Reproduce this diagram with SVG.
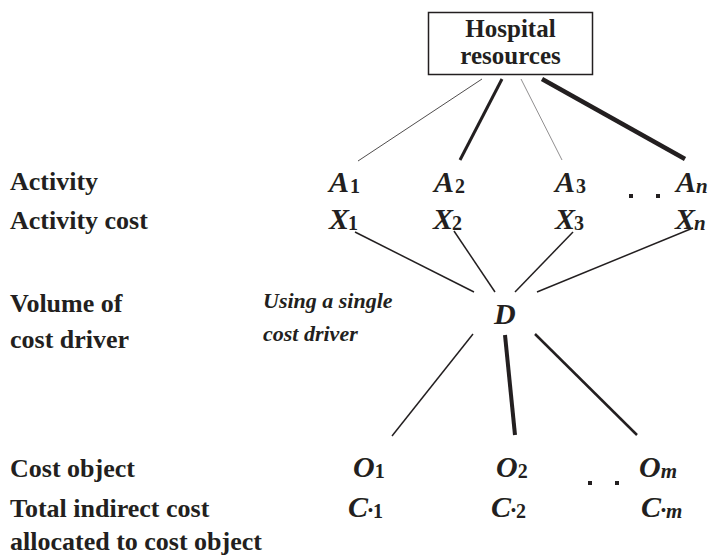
<svg xmlns="http://www.w3.org/2000/svg" width="714" height="555" viewBox="0 0 714 555">
<style>
.lab{font-family:"Liberation Serif","Times New Roman",serif;font-weight:bold;font-size:26px;fill:#231f20}
.hb{font-size:25px}
.note{font-family:"Liberation Serif","Times New Roman",serif;font-weight:bold;font-style:italic;font-size:22px;fill:#231f20}
.m{font-family:"Liberation Serif","Times New Roman",serif;font-weight:bold;font-style:italic;font-size:30px;fill:#231f20}
.s{font-style:normal;font-weight:bold;font-size:20px}
.si{font-style:italic;font-weight:bold;font-size:21px}
.dot{font-style:normal;font-weight:bold;font-size:14px}
.box{fill:#fff;stroke:#231f20;stroke-width:1.5}
.ln{stroke:#231f20;fill:none;stroke-linecap:butt}
.sq{fill:#231f20}
</style>
<g id="labels">
<text class="lab" x="10" y="190">Activity</text>
<text class="lab" x="10" y="229">Activity cost</text>
<text class="lab" x="10" y="312">Volume of</text>
<text class="lab" x="10" y="348">cost driver</text>
<text class="lab" x="10" y="477">Cost object</text>
<text class="lab" x="10" y="517">Total indirect cost</text>
<text class="lab" x="10" y="550">allocated to cost object</text>
<text class="note" x="263" y="308">Using a single</text>
<text class="note" x="263" y="341">cost driver</text>
</g>
<g id="connectors">
<line class="ln" x1="482" y1="79" x2="358" y2="161" stroke-width="0.8"/>
<line class="ln" x1="502" y1="79" x2="460" y2="160" stroke-width="3"/>
<line class="ln" x1="521" y1="79" x2="562" y2="160" stroke-width="0.5"/>
<line class="ln" x1="542" y1="79" x2="685" y2="159" stroke-width="4.5"/>
<line class="ln" x1="355" y1="232" x2="474" y2="292" stroke-width="1.5"/>
<line class="ln" x1="454" y1="231" x2="495" y2="292" stroke-width="1.5"/>
<line class="ln" x1="573" y1="232" x2="515" y2="292" stroke-width="1.5"/>
<line class="ln" x1="693" y1="228" x2="537" y2="292" stroke-width="1.5"/>
<line class="ln" x1="473" y1="334" x2="392" y2="436" stroke-width="1.5"/>
<line class="ln" x1="505" y1="335" x2="515" y2="435" stroke-width="4"/>
<line class="ln" x1="535" y1="334" x2="637" y2="435" stroke-width="2.5"/>
</g>
<g id="hospital">
<rect class="box" x="428.5" y="12.5" width="164" height="62"/>
<text class="lab hb" x="510.5" y="37" text-anchor="middle">Hospital</text>
<text class="lab hb" x="510.5" y="64" text-anchor="middle">resources</text>
</g>
<g id="A1"><text class="m" x="329" y="192">A<tspan class="s" dx="1" dy="1">1</tspan></text></g>
<g id="A2"><text class="m" x="434" y="192">A<tspan class="s" dx="1" dy="1">2</tspan></text></g>
<g id="A3"><text class="m" x="555" y="192">A<tspan class="s" dx="1" dy="1">3</tspan></text></g>
<g id="An"><text class="m" x="676" y="192">A<tspan class="si" dy="1">n</tspan></text></g>
<g id="dotsA"><rect class="sq" x="629" y="194" width="4" height="4"/><rect class="sq" x="656" y="194" width="4" height="4"/></g>
<g id="X1"><text class="m" x="329" y="229">X<tspan class="s" dx="-1" dy="1">1</tspan></text></g>
<g id="X2"><text class="m" x="433" y="229">X<tspan class="s" dx="-1" dy="1">2</tspan></text></g>
<g id="X3"><text class="m" x="555" y="229">X<tspan class="s" dx="-1" dy="1">3</tspan></text></g>
<g id="Xn"><text class="m" x="675" y="229">X<tspan class="si" dx="-1" dy="1">n</tspan></text></g>
<g id="D"><text class="m" x="494" y="324">D</text></g>
<g id="O1"><text class="m" x="353" y="477">O<tspan class="s" dy="1">1</tspan></text></g>
<g id="O2"><text class="m" x="496" y="477">O<tspan class="s" dy="1">2</tspan></text></g>
<g id="Om"><text class="m" x="639" y="477">O<tspan class="si" dy="1">m</tspan></text></g>
<g id="dotsO"><rect class="sq" x="588" y="481" width="4" height="4"/><rect class="sq" x="615" y="481" width="4" height="4"/></g>
<g id="C1"><text class="m" x="348" y="517">C<tspan class="dot" dy="-2">•</tspan><tspan class="s" dy="3">1</tspan></text></g>
<g id="C2"><text class="m" x="491" y="517">C<tspan class="dot" dy="-2">•</tspan><tspan class="s" dy="3">2</tspan></text></g>
<g id="Cm"><text class="m" x="641" y="517">C<tspan class="dot" dy="-2">•</tspan><tspan class="si" dy="3">m</tspan></text></g>
</svg>
